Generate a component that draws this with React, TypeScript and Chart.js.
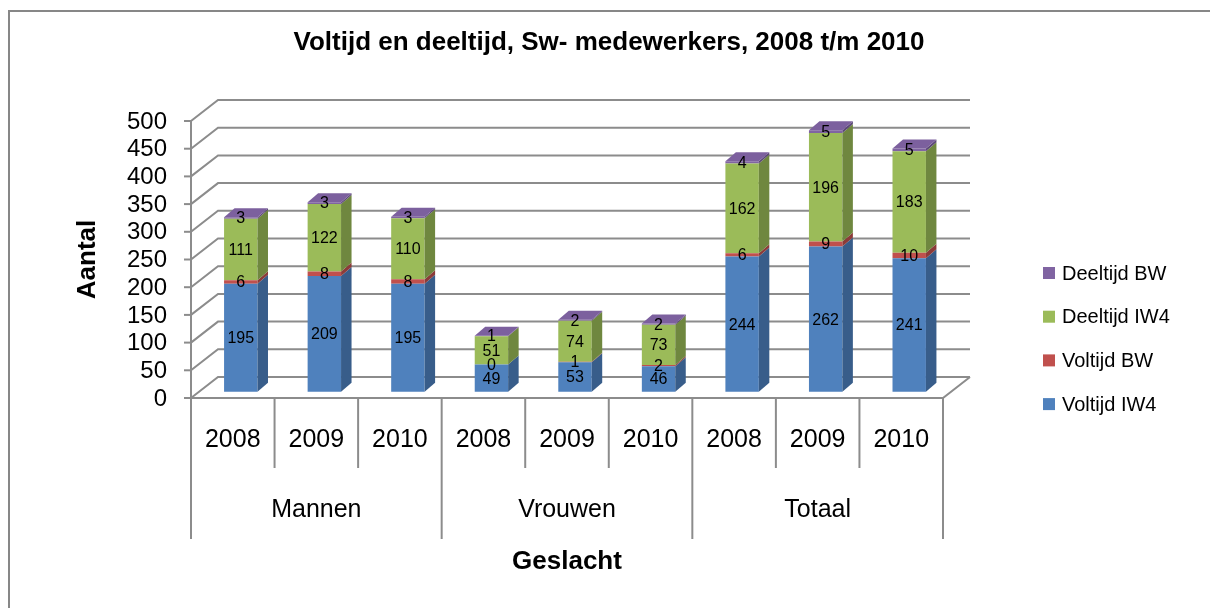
import React, { useEffect, useRef } from "react";
import { Chart, registerables } from "chart.js";

Chart.register(...registerables);

const chartTitle = "Voltijd en deeltijd, Sw- medewerkers, 2008 t/m 2010";
const yAxisTitle = "Aantal";
const xAxisTitle = "Geslacht";
const years = ["2008", "2009", "2010", "2008", "2009", "2010", "2008", "2009", "2010"];
const groups = ["Mannen", "Vrouwen", "Totaal"];
const yTicks = [0, 50, 100, 150, 200, 250, 300, 350, 400, 450, 500];

const voltijdIW4 = [195, 209, 195, 49, 53, 46, 244, 262, 241];
const voltijdBW = [6, 8, 8, 0, 1, 2, 6, 9, 10];
const deeltijdIW4 = [111, 122, 110, 51, 74, 73, 162, 196, 183];
const deeltijdBW = [3, 3, 3, 1, 2, 2, 4, 5, 5];

const seriesNames = ["Voltijd IW4", "Voltijd BW", "Deeltijd IW4", "Deeltijd BW"];
const frontColors = ["#4F81BD", "#C0504D", "#9BBB59", "#8064A2"];
const sideColors = ["#385D8A", "#8C3B39", "#6F873F", "#5C4877"];
const topColors = ["#6A92C6", "#CB6A67", "#AAC671", "#7C609E"];

const FONT = '"Liberation Sans", Arial, sans-serif';
const GRID = "#8C8C8C";

// geometry of the pseudo-3D walls (front plane = chart area)
const DX = 27;
const DY = -21;
const BX = 8;
const BY = -6.3;
const BDX = 10.5;
const BDY = -9;

const excel3d = {
  id: "excel3d",
  beforeDatasetsDraw(chart: any) {
    const { ctx, chartArea: a, scales } = chart;
    const y = scales.y;
    ctx.save();
    ctx.strokeStyle = GRID;
    ctx.lineWidth = 2;
    ctx.lineCap = "butt";
    for (const v of yTicks) {
      const py = y.getPixelForValue(v);
      ctx.beginPath();
      ctx.moveTo(a.left, py);
      ctx.lineTo(a.left + DX, py + DY);
      ctx.lineTo(a.right + DX, py + DY);
      ctx.stroke();
      ctx.beginPath();
      ctx.moveTo(a.left - 7, py);
      ctx.lineTo(a.left, py);
      ctx.stroke();
    }
    ctx.beginPath();
    ctx.moveTo(a.left, y.getPixelForValue(500));
    ctx.lineTo(a.left, a.bottom);
    ctx.stroke();
    ctx.beginPath();
    ctx.moveTo(a.left - 6, a.bottom);
    ctx.lineTo(a.right, a.bottom);
    ctx.lineTo(a.right + DX, a.bottom + DY);
    ctx.stroke();
    ctx.restore();
    ctx.save();
    ctx.translate(BX, BY);
  },
  afterDatasetsDraw(chart: any) {
    const { ctx } = chart;
    const n = chart.data.datasets.length;
    for (let d = 0; d < n; d++) {
      const meta = chart.getDatasetMeta(d);
      meta.data.forEach((bar: any) => {
        const p = bar.getProps(["x", "y", "base", "width"], true);
        const l = p.x - p.width / 2;
        const r = p.x + p.width / 2;
        const t = Math.min(p.y, p.base);
        const b = Math.max(p.y, p.base);
        ctx.fillStyle = sideColors[d];
        ctx.beginPath();
        ctx.moveTo(r, t);
        ctx.lineTo(r + BDX, t + BDY);
        ctx.lineTo(r + BDX, b + BDY);
        ctx.lineTo(r, b);
        ctx.closePath();
        ctx.fill();
        if (d === n - 1) {
          ctx.fillStyle = topColors[d];
          ctx.beginPath();
          ctx.moveTo(l, t);
          ctx.lineTo(l + BDX, t + BDY);
          ctx.lineTo(r + BDX, t + BDY);
          ctx.lineTo(r, t);
          ctx.closePath();
          ctx.fill();
        }
      });
    }
    ctx.fillStyle = "#000";
    ctx.font = `16px ${FONT}`;
    ctx.textAlign = "center";
    ctx.textBaseline = "middle";
    for (let d = 0; d < n; d++) {
      const meta = chart.getDatasetMeta(d);
      const vals = chart.data.datasets[d].data;
      meta.data.forEach((bar: any, i: number) => {
        const p = bar.getProps(["x", "y", "base"], true);
        ctx.fillText(String(vals[i]), p.x, (p.y + p.base) / 2 + 1);
      });
    }
    ctx.restore();
  },
  afterDraw(chart: any) {
    const { ctx, chartArea: a, scales } = chart;
    const x = scales.x;
    const y = scales.y;
    ctx.save();
    ctx.strokeStyle = "#878787";
    ctx.lineWidth = 2;
    ctx.strokeRect(9, 11, 1400, 800);

    ctx.fillStyle = "#000";
    ctx.textAlign = "center";
    ctx.textBaseline = "middle";
    ctx.font = `bold 26px ${FONT}`;
    ctx.fillText(chartTitle, 609, 43);

    ctx.font = `24px ${FONT}`;
    ctx.textAlign = "right";
    for (const v of yTicks) {
      ctx.fillText(String(v), a.left - 24, y.getPixelForValue(v) + 1);
    }

    ctx.save();
    ctx.translate(88, (a.top + a.bottom) / 2);
    ctx.rotate(-Math.PI / 2);
    ctx.textAlign = "center";
    ctx.font = `bold 26px ${FONT}`;
    ctx.fillText(yAxisTitle, 0, 0);
    ctx.restore();

    const w = (a.right - a.left) / years.length;
    ctx.strokeStyle = GRID;
    ctx.lineWidth = 2;
    for (let k = 0; k <= years.length; k++) {
      const px = a.left + k * w;
      ctx.beginPath();
      ctx.moveTo(px, a.bottom);
      ctx.lineTo(px, k % 3 === 0 ? 539 : 468);
      ctx.stroke();
    }
    ctx.font = `25px ${FONT}`;
    ctx.textAlign = "center";
    years.forEach((yr, i) => {
      ctx.fillText(yr, x.getPixelForValue(i), 440);
    });
    groups.forEach((g, gi) => {
      const cx = (x.getPixelForValue(gi * 3) + x.getPixelForValue(gi * 3 + 2)) / 2;
      ctx.fillText(g, cx, 510);
    });
    ctx.font = `bold 26px ${FONT}`;
    ctx.fillText(xAxisTitle, (a.left + a.right) / 2, 562);

    ctx.font = `20px ${FONT}`;
    ctx.textAlign = "left";
    for (let r = 0; r < seriesNames.length; r++) {
      const d = seriesNames.length - 1 - r;
      const cy = 273 + r * 43.7;
      ctx.fillStyle = frontColors[d];
      ctx.fillRect(1043, cy - 6, 12, 12);
      ctx.fillStyle = "#000";
      ctx.fillText(seriesNames[d], 1062, cy + 1);
    }
    ctx.restore();
  },
};

export default function App() {
  const ref = useRef<HTMLCanvasElement>(null);
  useEffect(() => {
    if (!ref.current) return;
    const seriesData = [voltijdIW4, voltijdBW, deeltijdIW4, deeltijdBW];
    const chart = new Chart(ref.current, {
      type: "bar",
      data: {
        labels: years.map((yr, i) => `${groups[Math.floor(i / 3)]} ${yr}`),
        datasets: seriesData.map((arr, d) => ({
          label: seriesNames[d],
          data: arr,
          backgroundColor: frontColors[d],
          borderWidth: 0,
          barPercentage: 0.4,
          categoryPercentage: 1,
          clip: false as any,
        })),
      },
      options: {
        responsive: false,
        animation: false,
        layout: { padding: { left: 191, right: 267, top: 121, bottom: 210 } },
        scales: {
          x: { stacked: true, display: false, offset: true },
          y: { stacked: true, display: false, min: 0, max: 500 },
        },
        plugins: {
          legend: { display: false },
          tooltip: { enabled: false },
        },
      },
      plugins: [excel3d],
    });
    return () => chart.destroy();
  }, []);
  return (
    <div style={{ position: "fixed", left: 0, top: 0, width: 1210, height: 608, background: "#fff" }}>
      <canvas ref={ref} width={1210} height={608} style={{ width: 1210, height: 608 }} />
    </div>
  );
}
